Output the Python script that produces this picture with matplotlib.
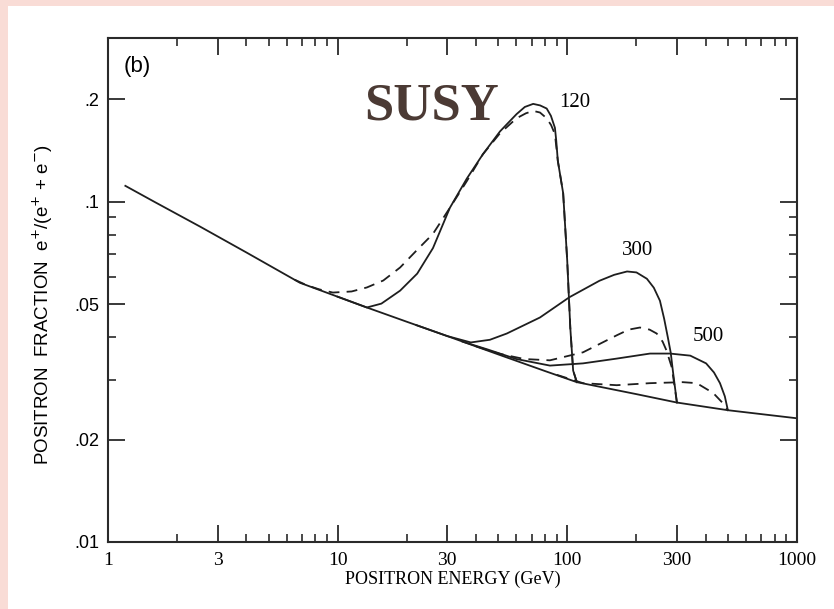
import numpy as np
import matplotlib
matplotlib.use('Agg')
import matplotlib.pyplot as plt
from matplotlib.patches import Rectangle
from matplotlib.ticker import FixedLocator, FixedFormatter, NullFormatter

# background (secondary) positron fraction
bg_E = [1.19, 1.6, 2.52, 4.0, 6.85, 10, 13.4, 20, 30, 50, 80, 110, 200, 300, 500, 1000]
bg_f = [0.1114, 0.0998, 0.0845, 0.0710, 0.0578, 0.0526, 0.0489, 0.0444, 0.0403,
        0.0356, 0.0318, 0.0295, 0.0272, 0.0257, 0.0244, 0.0231]

# 120 GeV
s120_E = [10, 13.4, 15.5, 18.7, 22.2, 26.0, 30.8, 36.5, 42.9, 50.9, 60.1, 65.3, 71.0,
          76.1, 81.3, 84.8, 88.3, 89.5, 90.9, 95.9, 99.9, 103, 106, 110]
s120_f = [0.0526, 0.0489, 0.0502, 0.0548, 0.0615, 0.0731, 0.0960, 0.117, 0.138, 0.161,
          0.181, 0.190, 0.194, 0.192, 0.188, 0.179, 0.165, 0.151, 0.132, 0.106, 0.0670,
          0.0427, 0.0319, 0.0295]
d120_E = [6.5, 7.36, 8.3, 9.53, 11.5, 13.4, 15.8, 18.7, 22.0, 26.0, 30.8, 36.5, 42.9,
          50.9, 60.1, 66, 71.0, 76, 81.3, 85, 88.3, 90.9, 95.9, 99.9, 103, 106, 110]
d120_f = [0.0590, 0.0568, 0.0553, 0.0541, 0.0545, 0.0560, 0.0587, 0.0641, 0.0718, 0.0805,
          0.0960, 0.115, 0.138, 0.159, 0.176, 0.182, 0.185, 0.183, 0.176, 0.168, 0.158,
          0.132, 0.106, 0.0670, 0.0427, 0.0319, 0.0295]

# 300 GeV
s300_E = [22, 30, 38, 46, 54.5, 76, 102, 138, 160, 182, 200, 222, 238, 253, 264, 274,
          282, 288, 300]
s300_f = [0.0434, 0.0403, 0.0386, 0.0393, 0.0410, 0.0457, 0.0524, 0.0586, 0.0610, 0.0624,
          0.0620, 0.0594, 0.0559, 0.0512, 0.0453, 0.0399, 0.0360, 0.0319, 0.0257]
d300_E = [40, 51, 65, 84, 117, 164, 185, 207, 228, 245, 260, 270, 285, 300]
d300_f = [0.0376, 0.0357, 0.0345, 0.0342, 0.0361, 0.0405, 0.0421, 0.0427, 0.0421, 0.0410,
          0.0388, 0.0366, 0.0326, 0.0257]

# 500 GeV
s500_E = [35, 45, 60, 84, 117, 164, 229, 280, 343, 402, 435, 462, 485, 500]
s500_f = [0.0388, 0.0368, 0.0345, 0.0330, 0.0335, 0.0346, 0.0358, 0.0358, 0.0353,
          0.0335, 0.0315, 0.0293, 0.0268, 0.0244]
d500_E = [90, 117, 164, 229, 318, 366, 432, 478, 500]
d500_f = [0.0310, 0.0293, 0.0289, 0.0293, 0.0295, 0.0293, 0.0274, 0.0255, 0.0244]

x_major = [1, 3, 10, 30, 100, 300, 1000]
x_labels = ['1', '3', '10', '30', '100', '300', '1000']
x_minor = [2, 4, 5, 6, 7, 8, 9, 20, 40, 50, 60, 70, 80, 90, 200, 400, 500, 600, 700, 800, 900]
y_major = [0.01, 0.02, 0.05, 0.1, 0.2]
y_labels = ['.01', '.02', '.05', '.1', '.2']
y_minor = [0.03, 0.04, 0.06, 0.07, 0.08, 0.09]

W, H = 834, 609
fig = plt.figure(figsize=(W / 100, H / 100), dpi=100)
fig.patch.set_facecolor('#f9dcd6')
fig.patches.append(Rectangle((8 / W, 0), 1, 1 - 6 / H, transform=fig.transFigure,
                             facecolor='white', edgecolor='none', zorder=-10))

ax = fig.add_axes([108 / W, 1 - 542 / H, (797 - 108) / W, (542 - 38) / H])
ax.set_zorder(2)
ax.patch.set_alpha(0)
ax.set_xscale('log')
ax.set_yscale('log')
ax.set_xlim(1, 1000)
ax.set_ylim(0.01, 0.303)

ink = '#1e1e1e'
lw = 1.3
dash = (0, (6, 4))
kw = dict(color=ink, lw=lw, solid_joinstyle='round', dash_joinstyle='round')
ax.plot(bg_E, bg_f, **kw)
ax.plot(s120_E, s120_f, **kw)
ax.plot(d120_E, d120_f, linestyle=dash, **kw)
ax.plot(s300_E, s300_f, **kw)
ax.plot(d300_E, d300_f, linestyle=dash, **kw)
ax.plot(s500_E, s500_f, **kw)
ax.plot(d500_E, d500_f, linestyle=dash, **kw)

for s in ax.spines.values():
    s.set_linewidth(1.5)
    s.set_color('#2a2a2a')

ax.xaxis.set_major_locator(FixedLocator(x_major))
ax.xaxis.set_major_formatter(FixedFormatter(x_labels))
ax.xaxis.set_minor_locator(FixedLocator(x_minor))
ax.xaxis.set_minor_formatter(NullFormatter())
ax.yaxis.set_major_locator(FixedLocator(y_major))
ax.yaxis.set_major_formatter(FixedFormatter(y_labels))
ax.yaxis.set_minor_locator(FixedLocator(y_minor))
ax.yaxis.set_minor_formatter(NullFormatter())

ax.tick_params(which='both', direction='in', top=True, right=True, color='#2a2a2a')
ax.tick_params(which='major', length=12, width=1.3)
ax.tick_params(which='minor', length=6, width=1.2)
ax.tick_params(axis='x', which='major', pad=7, labelsize=14)
ax.tick_params(axis='y', which='major', pad=6, labelsize=13)
for lab in ax.get_xticklabels():
    lab.set_family('Liberation Serif')
for lab in ax.get_yticklabels():
    lab.set_family('Liberation Sans')

ax.set_xlabel('POSITRON ENERGY (GeV)', fontsize=13, family='Liberation Serif', labelpad=1.5)
fig.text(43 / W, 1 - 304 / H, r'POSITRON  FRACTION  e$^{+}$/(e$^{+}$ + e$^{-}$)',
         rotation=90, ha='center', va='center', fontsize=13.5, family='Liberation Sans')

ax.text(0.022, 0.933, '(b)', transform=ax.transAxes, fontsize=16, family='Liberation Sans')
fig.text(432 / W, 1 - 119 / H, 'SUSY', ha='center', va='baseline', fontsize=38,
         fontweight='bold', family='Liberation Serif', color='#4b3a34')

ax.text(108, 0.196, '120', fontsize=15, family='Liberation Serif', ha='center', va='center')
ax.text(203, 0.072, '300', fontsize=15, family='Liberation Serif', ha='center', va='center')
ax.text(409, 0.0401, '500', fontsize=15, family='Liberation Serif', ha='center', va='center')

fig.savefig('out.png', dpi=100, facecolor=fig.get_facecolor())
